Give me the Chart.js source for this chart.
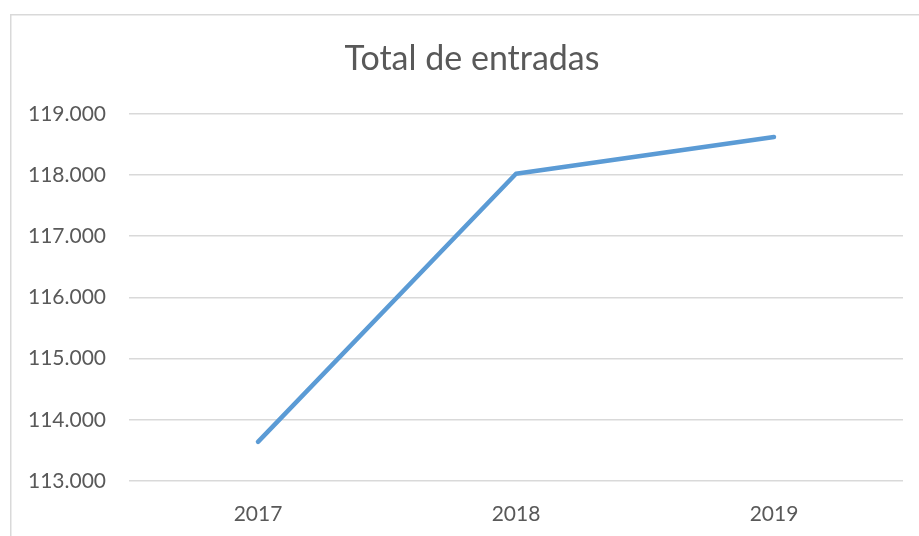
<!DOCTYPE html>
<html>
<head>
<meta charset="utf-8">
<script src="https://cdn.jsdelivr.net/npm/chart.js@4"></script>
<style>
  html, body { margin: 0; padding: 0; background: #fff; }
  #wrap { width: 919px; height: 536px; }
</style>
</head>
<body>
<div id="wrap"><canvas id="entradasChart" width="919" height="536"></canvas></div>
<script>
const years = ['2017', '2018', '2019'];
const totalEntradas = [113640, 118020, 118620];
const yMin = 113000;
const yMax = 119000;
const yStep = 1000;

// light frame like the spreadsheet chart box (runs off the right/bottom edge)
const frame = {
    id: 'frame',
    beforeDraw(chart) {
        const c = chart.ctx;
        c.save();
        c.strokeStyle = '#d9d9d9';
        c.lineWidth = 1.5;
        c.strokeRect(10.75, 14.75, 940, 600);
        c.restore();
    }
};

const ctx = document.getElementById('entradasChart').getContext('2d');
new Chart(ctx, {
    type: 'line',
    data: {
        labels: years,
        datasets: [{
            label: 'Total de entradas',
            data: totalEntradas,
            borderColor: '#5b9bd5',
            borderWidth: 4.5,
            borderCapStyle: 'round',
            borderJoinStyle: 'round',
            pointRadius: 0,
            fill: false,
            tension: 0
        }]
    },
    options: {
        responsive: false,
        animation: false,
        layout: { padding: { left: 12, top: 14, right: -13, bottom: 0 } },
        plugins: {
            legend: { display: false },
            tooltip: { enabled: false },
            title: {
                display: true,
                text: 'Total de entradas',
                color: '#595959',
                font: { family: 'Lato', size: 34, weight: 'normal' },
                padding: { top: 25, bottom: 34 }
            }
        },
        scales: {
            x: {
                offset: true,
                grid: { display: false },
                border: { display: false },
                ticks: {
                    color: '#595959',
                    font: { family: 'Lato', size: 21 },
                    padding: 13
                },
                afterFit(scale) { scale.height = 55; }
            },
            y: {
                min: yMin,
                max: yMax,
                ticks: {
                    stepSize: yStep,
                    color: '#595959',
                    font: { family: 'Lato', size: 21 },
                    padding: 23,
                    callback: v => (v / 1000).toFixed(3)
                },
                grid: { color: '#d9d9d9', lineWidth: 1.5, drawTicks: false },
                border: { display: false },
                afterFit(scale) { scale.width = 117; }
            },
            spacer: {
                position: 'right',
                display: true,
                grid: { display: false },
                border: { display: false },
                ticks: { display: false },
                afterFit(scale) { scale.width = 29; }
            }
        }
    },
    plugins: [frame]
});
</script>
</body>
</html>
